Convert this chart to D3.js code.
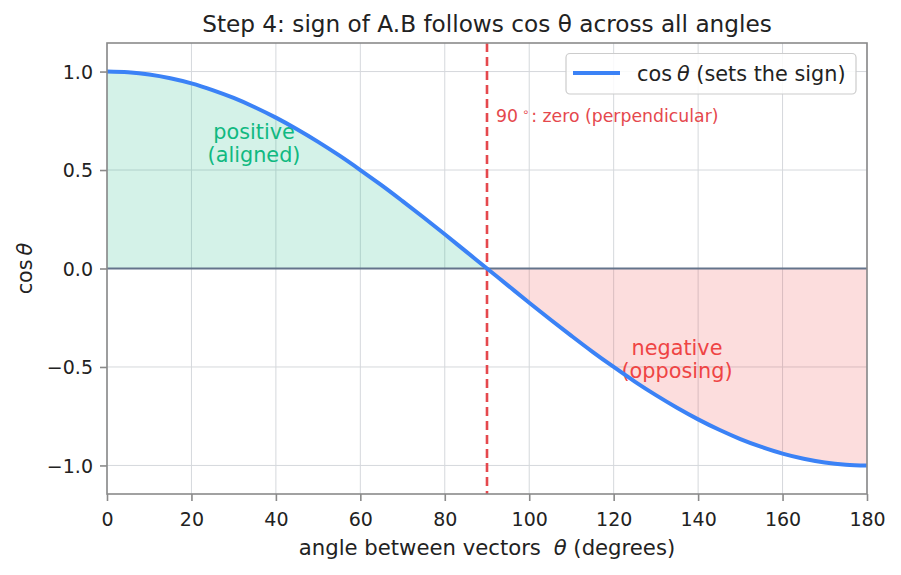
<!DOCTYPE html>
<html><head><meta charset="utf-8">
<script src="https://cdn.jsdelivr.net/npm/d3@7"></script>
<style>
body{margin:0;background:#fff;}
text{font-family:"DejaVu Sans",sans-serif;}
</style></head>
<body>
<svg id="chart" width="901" height="575"></svg>
<script>
// data: angle (degrees) and cos θ
const angles = [0,5,10,15,20,25,30,35,40,45,50,55,60,65,70,75,80,85,90,95,100,105,110,115,120,125,130,135,140,145,150,155,160,165,170,175,180];
const cosValues = [1.0,0.996,0.985,0.966,0.940,0.906,0.866,0.819,0.766,0.707,0.643,0.574,0.5,0.423,0.342,0.259,0.174,0.087,0.0,-0.087,-0.174,-0.259,-0.342,-0.423,-0.5,-0.574,-0.643,-0.707,-0.766,-0.819,-0.866,-0.906,-0.940,-0.966,-0.985,-0.996,-1.0];
const xTicks = [0,20,40,60,80,100,120,140,160,180];
const yTicks = [-1.0,-0.5,0.0,0.5,1.0];
const yTickLabels = ["\u22121.0","\u22120.5","0.0","0.5","1.0"];

const svg = d3.select("#chart");
const L=107, R=867, T=43, B=494;
const x = d3.scaleLinear().domain([0,180]).range([L,R]);
const y = d3.scaleLinear().domain([-1.145,1.145]).range([B,T]);
const pts = angles.map((a,i)=>({a, v:cosValues[i]}));

// grid
svg.append("g").selectAll("line").data(xTicks).join("line")
  .attr("x1",d=>x(d)).attr("x2",d=>x(d)).attr("y1",T).attr("y2",B)
  .attr("stroke","#d5d8dc").attr("stroke-width",1);
svg.append("g").selectAll("line").data(yTicks).join("line")
  .attr("x1",L).attr("x2",R).attr("y1",d=>y(d)).attr("y2",d=>y(d))
  .attr("stroke","#d5d8dc").attr("stroke-width",1);

// fills
const curve = d3.curveCatmullRom;
const posPts = pts.filter(p=>p.a<=90);
const negPts = pts.filter(p=>p.a>=90);
svg.append("path").datum(posPts)
  .attr("d", d3.area().x(d=>x(d.a)).y0(y(0)).y1(d=>y(d.v)).curve(curve))
  .attr("fill","#10b981").attr("fill-opacity",0.18);
svg.append("path").datum(negPts)
  .attr("d", d3.area().x(d=>x(d.a)).y0(y(0)).y1(d=>y(d.v)).curve(curve))
  .attr("fill","#ef4444").attr("fill-opacity",0.18);

// zero line
svg.append("line").attr("x1",L).attr("x2",R).attr("y1",y(0)).attr("y2",y(0))
  .attr("stroke","#64748b").attr("stroke-width",1.8);

// region labels
const posLbl = svg.append("text").attr("text-anchor","middle").attr("fill","#10b981").attr("font-size",20.8);
posLbl.append("tspan").attr("x",254).attr("y",139).text("positive");
posLbl.append("tspan").attr("x",254).attr("y",162).text("(aligned)");
const negLbl = svg.append("text").attr("text-anchor","middle").attr("fill","#ef4444").attr("font-size",20.8);
negLbl.append("tspan").attr("x",677).attr("y",355).text("negative");
negLbl.append("tspan").attr("x",677).attr("y",378).text("(opposing)");

// dashed 90 line
svg.append("line").attr("x1",x(90)).attr("x2",x(90)).attr("y1",T).attr("y2",B)
  .attr("stroke","#e5484d").attr("stroke-width",2.6).attr("stroke-dasharray","9,5");

// annotation
const ann = svg.append("text").attr("x",496).attr("y",122).attr("fill","#e5484d").attr("font-size",17.3);
ann.append("tspan").text("90");
ann.append("tspan").attr("dx",4).attr("dy",-6).attr("font-size",11.5).text("\u2218");
ann.append("tspan").attr("dx",2).attr("dy",6).text(": zero (perpendicular)");

// curve
svg.append("path").datum(pts)
  .attr("d", d3.line().x(d=>x(d.a)).y(d=>y(d.v)).curve(curve))
  .attr("fill","none").attr("stroke","#3b82f6").attr("stroke-width",4);

// frame
svg.append("rect").attr("x",L).attr("y",T).attr("width",R-L).attr("height",B-T)
  .attr("fill","none").attr("stroke","#8a8a8a").attr("stroke-width",1.6);

// axes
const xAxis = svg.append("g").attr("transform",`translate(0,${B})`)
  .call(d3.axisBottom(x).tickValues(xTicks).tickSize(7).tickPadding(7).tickFormat(d3.format("d")));
const yAxis = svg.append("g").attr("transform",`translate(${L},0)`)
  .call(d3.axisLeft(y).tickValues(yTicks).tickSize(7).tickPadding(7).tickFormat((d,i)=>yTickLabels[i]));
[xAxis,yAxis].forEach(g=>{
  g.select(".domain").remove();
  g.selectAll(".tick line").attr("stroke","#8a8a8a").attr("stroke-width",1.6);
  g.selectAll(".tick text").attr("fill","#222").attr("font-size",19).attr("font-family","DejaVu Sans, sans-serif");
});
xAxis.selectAll(".tick text").attr("y",32).attr("dy",0);
yAxis.selectAll(".tick text").attr("dy","0.35em");

// titles
svg.append("text").attr("x",(L+R)/2).attr("y",32).attr("text-anchor","middle")
  .attr("font-size",23.2).attr("fill","#222").text("Step 4: sign of A.B follows cos \u03b8 across all angles");
const xl = svg.append("text").attr("x",(L+R)/2).attr("y",555).attr("text-anchor","middle")
  .attr("font-size",21.2).attr("fill","#222");
xl.append("tspan").text("angle between vectors ");
xl.append("tspan").attr("dx",6).attr("font-style","italic").text("\u03b8");
xl.append("tspan").text(" (degrees)");
const yl = svg.append("text").attr("transform",`translate(32,${y(0)}) rotate(-90)`).attr("text-anchor","middle")
  .attr("font-size",20.8).attr("fill","#222");
yl.append("tspan").text("cos");
yl.append("tspan").attr("dx",4).attr("font-style","italic").text("\u03b8");

// legend
const lg = svg.append("g");
lg.append("rect").attr("x",566).attr("y",53.5).attr("width",290).attr("height",40.5).attr("rx",4)
  .attr("fill","#fff").attr("fill-opacity",0.85).attr("stroke","#cccccc").attr("stroke-width",1.2);
lg.append("line").attr("x1",573).attr("x2",620).attr("y1",73).attr("y2",73)
  .attr("stroke","#3b82f6").attr("stroke-width",4);
const lt = lg.append("text").attr("x",637).attr("y",81).attr("font-size",20.8).attr("fill","#222");
lt.append("tspan").text("cos");
lt.append("tspan").attr("dx",5).attr("font-style","italic").text("\u03b8");
lt.append("tspan").text(" (sets the sign)");
</script>
</body></html>
